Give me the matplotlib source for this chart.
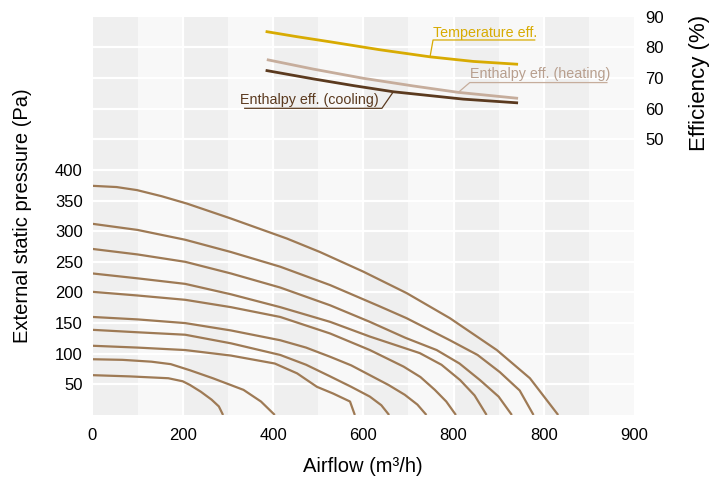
import matplotlib.pyplot as plt

plt.rcParams['font.family'] = ['Liberation Sans', 'DejaVu Sans']

# fan curves, highest speed first: airflow and external static pressure (Pa)
q1 = [0, 40, 74, 115, 157, 229, 323, 378, 450, 522, 594, 672, 727, 774]
p1 = [374, 372, 367, 357, 345, 321, 288, 266, 234, 199, 158, 106, 60, 0]
q2 = [0, 75, 154, 230, 312, 395, 478, 522, 594, 640, 677, 710, 733]
p2 = [312, 302, 286, 266, 242, 212, 177, 158, 122, 98, 70, 40, 0]
q3 = [0, 75, 154, 230, 312, 395, 461, 520, 572, 610, 644, 675, 697]
p3 = [271, 262, 250, 231, 208, 179, 152, 126, 106, 84, 57, 30, 0]
q4 = [0, 75, 154, 230, 312, 395, 461, 544, 580, 611, 635, 655]
p4 = [231, 223, 214, 197, 176, 152, 128, 101, 82, 57, 32, 0]
q5 = [0, 75, 154, 230, 312, 395, 461, 517, 545, 569, 588, 604]
p5 = [201, 195, 188, 176, 160, 133, 106, 79, 62, 41, 22, 0]
q6 = [0, 75, 154, 230, 312, 355, 395, 430, 461, 492, 519, 540, 555]
p6 = [160, 156, 150, 138, 122, 110, 95, 81, 65, 49, 33, 17, 0]
q7 = [0, 75, 154, 230, 312, 355, 395, 430, 461, 480, 493]
p7 = [139, 135, 131, 117, 98, 82, 63, 46, 30, 16, 0]
q8 = [0, 75, 154, 230, 303, 340, 373, 400, 428, 436]
p8 = [113, 110, 106, 97, 84, 68, 46, 35, 22, 0]
q9 = [0, 50, 98, 130, 162, 200, 251, 280, 303]
p9 = [91, 90, 87, 83, 73, 60, 41, 22, 0]
q10 = [0, 62, 126, 150, 162, 180, 198, 210, 217]
p10 = [65, 63, 60, 55, 49, 38, 25, 14, 0]

# efficiency curves (%)
temp_q = [290, 339, 395, 478, 561, 633, 705]
temp_eff = [85.1, 83.5, 81.8, 79.2, 76.9, 75.4, 74.5]
heat_q = [292, 367, 450, 533, 608, 705]
heat_eff = [75.9, 72.9, 69.9, 67.4, 65.3, 63.4]
cool_q = [290, 367, 434, 500, 616, 705]
cool_eff = [72.4, 69.7, 67.5, 65.5, 63.1, 61.9]

xtick_pos = [0, 150, 300, 450, 600, 750, 900]
xtick_labels = ['0', '200', '400', '600', '800', '800', '900']
ytick_left = [50, 100, 150, 200, 250, 300, 350, 400]
ytick_right = [50, 60, 70, 80, 90]

FAN = '#9e7a55'
GOLD = '#d8ab02'
HEAT = '#c6ad9c'
COOL = '#5b3a1f'

fig = plt.figure(figsize=(7.28, 4.79), dpi=100)
ax = fig.add_axes([92.5 / 728, 1 - 415 / 479, (634 - 92.5) / 728, (415 - 16.7) / 479])
ax.set_xlim(0, 900)
ax.set_ylim(0, 650)

# background cells
for k in range(6):
    ax.axvspan(150 * k, 150 * k + 75, color='#efefef', lw=0, zorder=0)
    ax.axvspan(150 * k + 75, 150 * k + 150, color='#f8f8f8', lw=0, zorder=0)
for k in range(1, 6):
    ax.axvline(150 * k, color='white', lw=1.6, zorder=0.5)
for k in range(1, 13):
    ax.axhline(50 * k, color='white', lw=1.6, zorder=0.5)

for q, p in [(q1, p1), (q2, p2), (q3, p3), (q4, p4), (q5, p5),
             (q6, p6), (q7, p7), (q8, p8), (q9, p9), (q10, p10)]:
    ax.plot(q, p, color=FAN, lw=1.6, zorder=2, solid_capstyle='butt', solid_joinstyle='round')

for s in ax.spines.values():
    s.set_visible(False)
ax.set_xticks(xtick_pos, xtick_labels)
ax.set_yticks(ytick_left)
ax.tick_params(axis='both', length=0, labelsize=12)
ax.tick_params(axis='x', pad=9)
ax.tick_params(axis='y', pad=7)
ax.set_xlabel('Airflow (m³/h)', fontsize=14.5, va='center')
ax.xaxis.set_label_coords(0.5, -(467 - 415) / 398.3)
ax.set_ylabel('External static pressure (Pa)', fontsize=14.5, va='center')
ax.yaxis.set_label_coords(-(92.5 - 23) / 541.5, 0.5)

ax2 = ax.twinx()
ax2.set_ylim(-40, 90)
ax2.patch.set_visible(False)
for s in ax2.spines.values():
    s.set_visible(False)
ax2.set_yticks(ytick_right)
ax2.tick_params(axis='y', length=0, labelsize=12, pad=8)
ax2.set_ylabel('Efficiency (%)', fontsize=16, va='center')
ax2.yaxis.set_label_coords((699 - 92.5) / 541.5, 1 - (83 - 16.7) / 398.3)

ax2.plot(temp_q, temp_eff, color=GOLD, lw=2, zorder=3, solid_joinstyle='round')
ax2.plot(heat_q, heat_eff, color=HEAT, lw=2, zorder=3, solid_joinstyle='round')
ax2.plot(cool_q, cool_eff, color=COOL, lw=2, zorder=3, solid_joinstyle='round')

# labels with underline and leader line to the curve
ax2.plot([735, 566, temp_q[4]], [82.4, 82.4, temp_eff[4]], color=GOLD, lw=0.9)
ax2.text(566, 83.5, 'Temperature eff.', color=GOLD, fontsize=10.3, va='baseline')
ax2.plot([855, 627, heat_q[4]], [68.5, 68.5, heat_eff[4]], color=HEAT, lw=0.9)
ax2.text(627, 69.9, 'Enthalpy eff. (heating)', color='#b89f8e', fontsize=10.3, va='baseline')
ax2.plot([253, 481, cool_q[3]], [60.1, 60.1, cool_eff[3]], color=COOL, lw=0.9)
ax2.text(475, 61.4, 'Enthalpy eff. (cooling)', color=COOL, fontsize=10.3, va='baseline', ha='right')

fig.savefig('out.png', dpi=100)
